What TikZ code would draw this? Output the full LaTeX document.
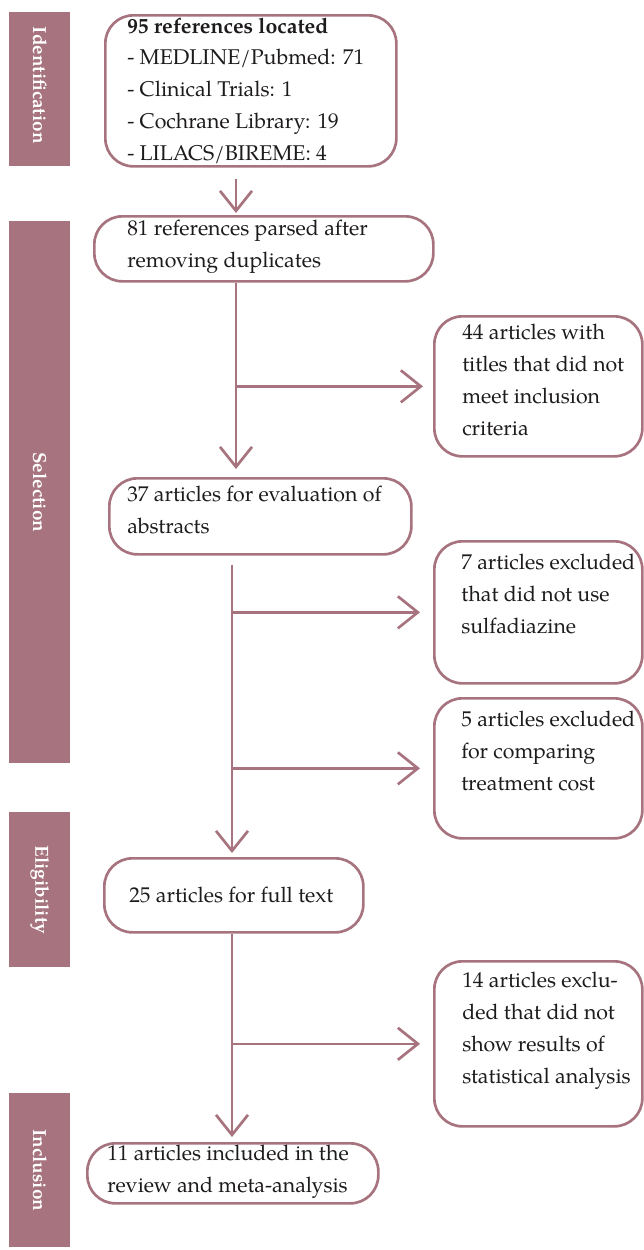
\documentclass[tikz,border=0pt]{standalone}
\usepackage{fontspec}
\setmainfont{TeX Gyre Pagella}
\usetikzlibrary{arrows.meta}
\definecolor{mauve}{RGB}{166,115,126}
\definecolor{ink}{RGB}{30,27,28}
\begin{document}
\begin{tikzpicture}[x=0.75pt,y=-0.75pt,
  box/.style={draw=mauve, line width=2pt, rounded corners=21pt, anchor=north west, inner sep=0pt},
  txt/.style={anchor=base west, inner sep=0pt, align=left, text=ink, font=\fontsize{16}{23.8}\selectfont},
  bar/.style={fill=mauve, anchor=north west, inner sep=0pt},
  lab/.style={text=white, font=\bfseries\fontsize{14.2}{15}\selectfont, rotate=-90, inner sep=0pt},
  arr/.style={draw=mauve, line width=2pt, -{Straight Barb[length=15pt,width=24pt,line width=2pt]}}]
\useasboundingbox (0,0) rectangle (643,1250);
% phase bars
\node[bar, minimum width={61*0.75pt}, minimum height={154*0.75pt}] (barI) at (9,12) {};
\node[lab] (labI) at ([yshift=3pt]barI.center) {Identification};
\node[bar, minimum width={61*0.75pt}, minimum height={542*0.75pt}] (barS) at (9,221) {};
\node[lab] (labS) at (barS.center) {Selection};
\node[bar, minimum width={61*0.75pt}, minimum height={155*0.75pt}] (barE) at (9,812) {};
\node[lab] (labE) at (barE.center) {Eligibility};
\node[bar, minimum width={61*0.75pt}, minimum height={154*0.75pt}] (barN) at (9,1093) {};
\node[lab] (labN) at (barN.center) {Inclusion};
% boxes
\node[box, minimum width={291*0.75pt}, minimum height={151*0.75pt}] (b1) at (104,14) {};
\node[box, minimum width={339*0.75pt}, minimum height={65*0.75pt}] (b2) at (93,215) {};
\node[box, minimum width={208*0.75pt}, minimum height={140*0.75pt}] (b3) at (433,315) {};
\node[box, minimum width={302*0.75pt}, minimum height={76*0.75pt}] (b4) at (108,477) {};
\node[box, minimum width={208*0.75pt}, minimum height={142*0.75pt}] (b5) at (433,540) {};
\node[box, minimum width={208*0.75pt}, minimum height={140*0.75pt}] (b6) at (433,697) {};
\node[box, minimum width={259*0.75pt}, minimum height={74*0.75pt}] (b7) at (103,857) {};
\node[box, minimum width={208*0.75pt}, minimum height={165*0.75pt}] (b8) at (433,960) {};
\node[box, minimum width={291*0.75pt}, minimum height={60*0.75pt}] (b9) at (86,1142) {};
% texts (anchored at the baseline of the last line)
\node[txt] (t1) at (127,160) {\textbf{95 references located}\\- MEDLINE/Pubmed: 71\\- Clinical Trials: 1\\- Cochrane Library: 19\\- LILACS/BIREME: 4};
\node[txt] (t2) at (127,267) {81 references parsed after\\removing duplicates};
\node[txt] (t3) at (462,435) {44 articles with\\titles that did not\\meet inclusion\\criteria};
\node[txt] (t4) at (127,533) {37 articles for evaluation of\\abstracts};
\node[txt] (t5) at (461,633) {7 articles excluded\\that did not use\\sulfadiazine};
\node[txt] (t6) at (461,790) {5 articles excluded\\for comparing\\treatment cost};
\node[txt] (t7) at (129,902) {25 articles for full text};
\node[txt] (t8) at (462,1083) {14 articles exclu-\\ded that did not\\show results of\\statistical analysis};
\node[txt] (t9) at (107,1192) {11 articles included in the\\review and meta-analysis};
% spines
\coordinate (sp1) at (236,0);
\coordinate (sp2) at (232,0);
% connectors
\draw[arr, shorten <=8.25pt, shorten >=1.5pt] (b1.south -| sp1) -- (b2.north -| sp1);
\draw[arr, shorten >=6pt] (b2.south -| sp1) -- (b4.north -| sp1);
\draw[arr, shorten >=7.5pt] (b3.west -| sp1) -- (b3.west);
\draw[arr, shorten <=6.75pt, shorten >=3pt] (b4.south -| sp2) -- (b7.north -| sp2);
\draw[arr, shorten >=9.75pt] (b5.west -| sp2) -- (b5.west);
\draw[arr, shorten >=9.75pt] (b6.west -| sp2) -- (b6.west);
\draw[arr, shorten >=3.75pt] (b7.south -| sp2) -- (b9.north -| sp2);
\draw[arr, shorten >=9.75pt] (b8.west -| sp2) -- (b8.west);
\end{tikzpicture}
\end{document}
